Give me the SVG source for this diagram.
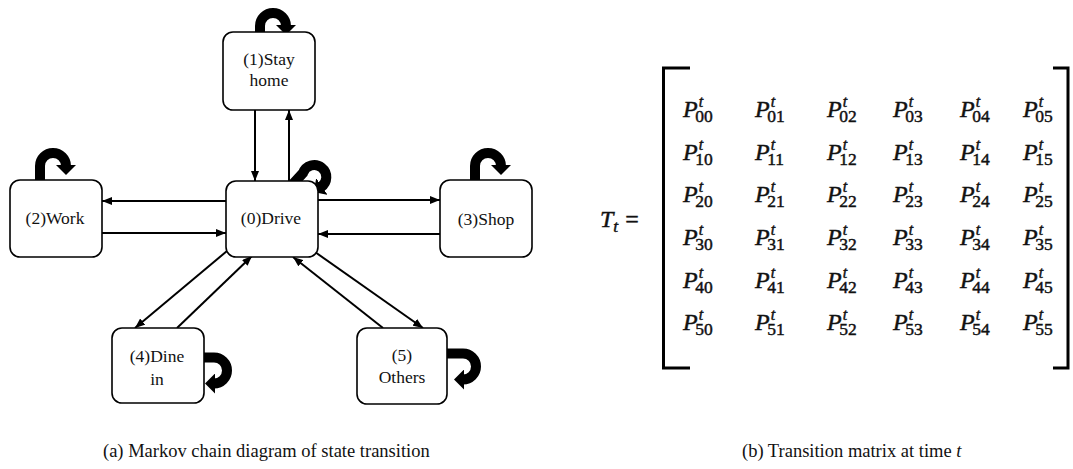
<svg xmlns="http://www.w3.org/2000/svg" width="1073" height="469" viewBox="0 0 1073 469">
<style>
.box{fill:#fff;stroke:#000;stroke-width:1.6}
.lbl{font-family:"Liberation Serif","Times New Roman",serif;font-size:17.5px;fill:#111;text-anchor:middle}
.edge{stroke:#000;stroke-width:2;fill:none;marker-end:url(#ah)}
.loop{stroke:#000;stroke-width:10;fill:none;marker-end:url(#bh)}
.m{font-family:"Liberation Serif","Times New Roman",serif;font-size:24px;fill:#111;stroke:#111;stroke-width:0.45}
.it{font-style:italic}
.sup{font-style:italic;font-size:16px}
.sub{font-size:17.5px}
.cap{font-family:"Liberation Serif","Times New Roman",serif;font-size:18.5px;fill:#111}
.br{stroke:#000;stroke-width:3;fill:none}
</style>
<defs>
<marker id="ah" viewBox="0 0 10 8" markerWidth="10" markerHeight="8" refX="10" refY="4" orient="auto" markerUnits="userSpaceOnUse"><path d="M0,0 L10,4 L0,8 z" fill="#000"/></marker>
<marker id="bh" viewBox="0 0 10 20" markerWidth="10" markerHeight="20" refX="1" refY="10" orient="auto" markerUnits="userSpaceOnUse"><path d="M0,0 L10,10 L0,20 z" fill="#000"/></marker>
</defs>

<g id="connectors">
<line class="edge" x1="255" y1="110" x2="255" y2="181"/>
<line class="edge" x1="289" y1="181" x2="289" y2="110"/>
<line class="edge" x1="226" y1="201" x2="102" y2="201"/>
<line class="edge" x1="102" y1="233" x2="226" y2="233"/>
<line class="edge" x1="318" y1="200" x2="440" y2="200"/>
<line class="edge" x1="440" y1="234" x2="318" y2="234"/>
<line class="edge" x1="227" y1="251" x2="135" y2="328"/>
<line class="edge" x1="177" y1="328" x2="252" y2="256"/>
<line class="edge" x1="383" y1="328" x2="293" y2="257"/>
<line class="edge" x1="315" y1="252" x2="423" y2="328"/>
<path class="loop" d="M260,39 V26 A13,13 0 0 1 286,26"/>
<path class="loop" d="M40,187 V166 A13,13 0 0 1 66,166"/>
<path class="loop" d="M475,187 V166 A13,13 0 0 1 501,166"/>
<path class="loop" d="M195,357.5 H214 A13,13 0 0 1 214,383.5"/>
<path class="loop" d="M443,353.5 H463 A13,13 0 0 1 463,379.5"/>
<path class="loop" d="M292,185 L303,173 A12,12 0 1 1 321,187"/>
</g>

<g id="node1"><rect class="box" x="223" y="32" width="92" height="78" rx="10"/><text class="lbl" x="269" y="65">(1)Stay</text><text class="lbl" x="269" y="86">home</text></g>
<g id="node0"><rect class="box" x="226" y="181" width="92" height="76" rx="10"/><text class="lbl" x="271" y="224">(0)Drive</text></g>
<g id="node2"><rect class="box" x="10" y="180" width="92" height="77" rx="10"/><text class="lbl" x="55" y="224">(2)Work</text></g>
<g id="node3"><rect class="box" x="440" y="180" width="92" height="77" rx="10"/><text class="lbl" x="486" y="225">(3)Shop</text></g>
<g id="node4"><rect class="box" x="112" y="328" width="92" height="75" rx="10"/><text class="lbl" x="157" y="362">(4)Dine</text><text class="lbl" x="157" y="385">in</text></g>
<g id="node5"><rect class="box" x="357" y="328" width="90" height="76" rx="10"/><text class="lbl" x="402" y="361">(5)</text><text class="lbl" x="402" y="383">Others</text></g>

<g id="matrix">
<text class="m" x="600" y="227"><tspan class="it">T</tspan><tspan class="sub it" dy="5">t</tspan><tspan dx="7" dy="-5">=</tspan></text>
<path class="br" d="M690,68 H663.5 V368 H690"/>
<path class="br" d="M1053,68 H1068 V368 H1053"/>
<g id="row0">
<text class="m" x="683" y="117"><tspan class="it">P</tspan><tspan class="sup" dx="1" dy="-10">t</tspan><tspan class="sub" dx="-8" dy="15">00</tspan></text>
<text class="m" x="755" y="117"><tspan class="it">P</tspan><tspan class="sup" dx="1" dy="-10">t</tspan><tspan class="sub" dx="-8" dy="15">01</tspan></text>
<text class="m" x="827" y="117"><tspan class="it">P</tspan><tspan class="sup" dx="1" dy="-10">t</tspan><tspan class="sub" dx="-8" dy="15">02</tspan></text>
<text class="m" x="893" y="117"><tspan class="it">P</tspan><tspan class="sup" dx="1" dy="-10">t</tspan><tspan class="sub" dx="-8" dy="15">03</tspan></text>
<text class="m" x="960" y="117"><tspan class="it">P</tspan><tspan class="sup" dx="1" dy="-10">t</tspan><tspan class="sub" dx="-8" dy="15">04</tspan></text>
<text class="m" x="1023" y="117"><tspan class="it">P</tspan><tspan class="sup" dx="1" dy="-10">t</tspan><tspan class="sub" dx="-8" dy="15">05</tspan></text>
</g>
<g id="row1">
<text class="m" x="683" y="160"><tspan class="it">P</tspan><tspan class="sup" dx="1" dy="-10">t</tspan><tspan class="sub" dx="-8" dy="15">10</tspan></text>
<text class="m" x="755" y="160"><tspan class="it">P</tspan><tspan class="sup" dx="1" dy="-10">t</tspan><tspan class="sub" dx="-8" dy="15">11</tspan></text>
<text class="m" x="827" y="160"><tspan class="it">P</tspan><tspan class="sup" dx="1" dy="-10">t</tspan><tspan class="sub" dx="-8" dy="15">12</tspan></text>
<text class="m" x="893" y="160"><tspan class="it">P</tspan><tspan class="sup" dx="1" dy="-10">t</tspan><tspan class="sub" dx="-8" dy="15">13</tspan></text>
<text class="m" x="960" y="160"><tspan class="it">P</tspan><tspan class="sup" dx="1" dy="-10">t</tspan><tspan class="sub" dx="-8" dy="15">14</tspan></text>
<text class="m" x="1023" y="160"><tspan class="it">P</tspan><tspan class="sup" dx="1" dy="-10">t</tspan><tspan class="sub" dx="-8" dy="15">15</tspan></text>
</g>
<g id="row2">
<text class="m" x="683" y="202"><tspan class="it">P</tspan><tspan class="sup" dx="1" dy="-10">t</tspan><tspan class="sub" dx="-8" dy="15">20</tspan></text>
<text class="m" x="755" y="202"><tspan class="it">P</tspan><tspan class="sup" dx="1" dy="-10">t</tspan><tspan class="sub" dx="-8" dy="15">21</tspan></text>
<text class="m" x="827" y="202"><tspan class="it">P</tspan><tspan class="sup" dx="1" dy="-10">t</tspan><tspan class="sub" dx="-8" dy="15">22</tspan></text>
<text class="m" x="893" y="202"><tspan class="it">P</tspan><tspan class="sup" dx="1" dy="-10">t</tspan><tspan class="sub" dx="-8" dy="15">23</tspan></text>
<text class="m" x="960" y="202"><tspan class="it">P</tspan><tspan class="sup" dx="1" dy="-10">t</tspan><tspan class="sub" dx="-8" dy="15">24</tspan></text>
<text class="m" x="1023" y="202"><tspan class="it">P</tspan><tspan class="sup" dx="1" dy="-10">t</tspan><tspan class="sub" dx="-8" dy="15">25</tspan></text>
</g>
<g id="row3">
<text class="m" x="683" y="245"><tspan class="it">P</tspan><tspan class="sup" dx="1" dy="-10">t</tspan><tspan class="sub" dx="-8" dy="15">30</tspan></text>
<text class="m" x="755" y="245"><tspan class="it">P</tspan><tspan class="sup" dx="1" dy="-10">t</tspan><tspan class="sub" dx="-8" dy="15">31</tspan></text>
<text class="m" x="827" y="245"><tspan class="it">P</tspan><tspan class="sup" dx="1" dy="-10">t</tspan><tspan class="sub" dx="-8" dy="15">32</tspan></text>
<text class="m" x="893" y="245"><tspan class="it">P</tspan><tspan class="sup" dx="1" dy="-10">t</tspan><tspan class="sub" dx="-8" dy="15">33</tspan></text>
<text class="m" x="960" y="245"><tspan class="it">P</tspan><tspan class="sup" dx="1" dy="-10">t</tspan><tspan class="sub" dx="-8" dy="15">34</tspan></text>
<text class="m" x="1023" y="245"><tspan class="it">P</tspan><tspan class="sup" dx="1" dy="-10">t</tspan><tspan class="sub" dx="-8" dy="15">35</tspan></text>
</g>
<g id="row4">
<text class="m" x="683" y="288"><tspan class="it">P</tspan><tspan class="sup" dx="1" dy="-10">t</tspan><tspan class="sub" dx="-8" dy="15">40</tspan></text>
<text class="m" x="755" y="288"><tspan class="it">P</tspan><tspan class="sup" dx="1" dy="-10">t</tspan><tspan class="sub" dx="-8" dy="15">41</tspan></text>
<text class="m" x="827" y="288"><tspan class="it">P</tspan><tspan class="sup" dx="1" dy="-10">t</tspan><tspan class="sub" dx="-8" dy="15">42</tspan></text>
<text class="m" x="893" y="288"><tspan class="it">P</tspan><tspan class="sup" dx="1" dy="-10">t</tspan><tspan class="sub" dx="-8" dy="15">43</tspan></text>
<text class="m" x="960" y="288"><tspan class="it">P</tspan><tspan class="sup" dx="1" dy="-10">t</tspan><tspan class="sub" dx="-8" dy="15">44</tspan></text>
<text class="m" x="1023" y="288"><tspan class="it">P</tspan><tspan class="sup" dx="1" dy="-10">t</tspan><tspan class="sub" dx="-8" dy="15">45</tspan></text>
</g>
<g id="row5">
<text class="m" x="683" y="330"><tspan class="it">P</tspan><tspan class="sup" dx="1" dy="-10">t</tspan><tspan class="sub" dx="-8" dy="15">50</tspan></text>
<text class="m" x="755" y="330"><tspan class="it">P</tspan><tspan class="sup" dx="1" dy="-10">t</tspan><tspan class="sub" dx="-8" dy="15">51</tspan></text>
<text class="m" x="827" y="330"><tspan class="it">P</tspan><tspan class="sup" dx="1" dy="-10">t</tspan><tspan class="sub" dx="-8" dy="15">52</tspan></text>
<text class="m" x="893" y="330"><tspan class="it">P</tspan><tspan class="sup" dx="1" dy="-10">t</tspan><tspan class="sub" dx="-8" dy="15">53</tspan></text>
<text class="m" x="960" y="330"><tspan class="it">P</tspan><tspan class="sup" dx="1" dy="-10">t</tspan><tspan class="sub" dx="-8" dy="15">54</tspan></text>
<text class="m" x="1023" y="330"><tspan class="it">P</tspan><tspan class="sup" dx="1" dy="-10">t</tspan><tspan class="sub" dx="-8" dy="15">55</tspan></text>
</g>
</g>

<g id="captions">
<text class="cap" x="103" y="457">(a) Markov chain diagram of state transition</text>
<text class="cap" x="742" y="457">(b) Transition matrix at time <tspan font-style="italic">t</tspan></text>
</g>
</svg>
